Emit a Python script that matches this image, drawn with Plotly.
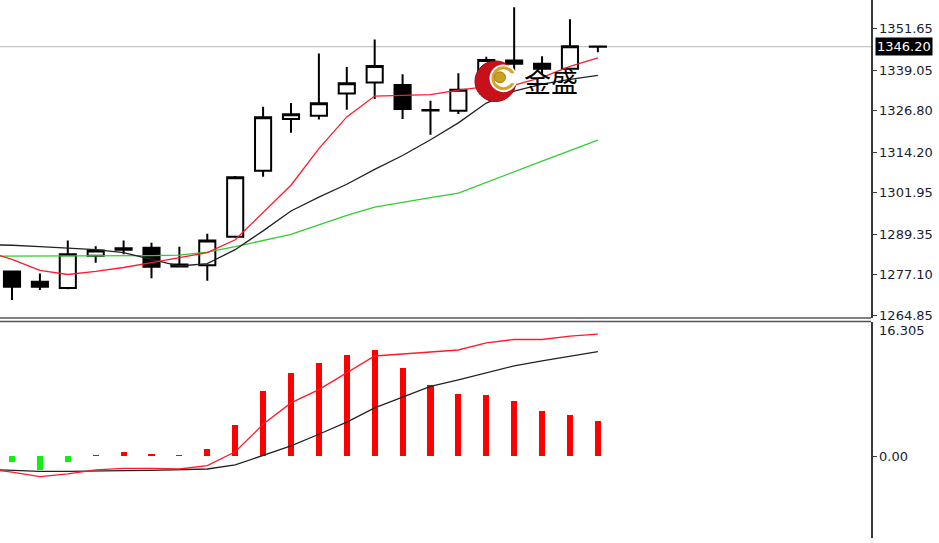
import plotly.graph_objects as go

# ---------------- data ----------------
bars = list(range(22))
opens = [1278.07, 1274.97, 1273.05, 1282.87, 1284.67, 1285.27, 1280.17, 1279.96, 1288.58, 1308.61, 1324.32,
         1325.31, 1332.04, 1335.34, 1334.62, 1326.87, 1326.81, 1333.33, 1342.04, 1341.05, 1339.55, 1346.25]
highs = [1278.37, 1277.46, 1287.47, 1285.72, 1287.47, 1286.78, 1285.57, 1289.48, 1306.99, 1328.01, 1329.12,
         1344.14, 1340.03, 1348.35, 1337.84, 1329.82, 1338.14, 1343.15, 1358.17, 1343.33, 1354.56, 1346.25]
lows = [1269.45, 1272.45, 1272.66, 1280.68, 1283.26, 1276.05, 1279.42, 1275.27, 1288.40, 1306.81, 1320.11,
        1324.11, 1327.11, 1330.33, 1324.32, 1319.51, 1325.82, 1332.73, 1337.84, 1337.84, 1339.55, 1344.53]
closes = [1273.47, 1273.47, 1283.26, 1284.46, 1285.12, 1279.48, 1279.57, 1287.47, 1306.60, 1324.83, 1325.73,
          1329.06, 1335.13, 1340.33, 1327.32, 1327.02, 1333.12, 1342.19, 1341.05, 1339.55, 1346.34, 1346.20]

ma_x = list(range(-1, 22))
ma_fast = [1284.37, 1281.76, 1278.37, 1277.16, 1278.07, 1279.27, 1280.77, 1282.27, 1283.77, 1287.68, 1295.79,
           1304.20, 1315.31, 1324.92, 1331.23, 1331.53, 1331.68, 1333.03, 1334.08, 1334.53, 1336.93, 1340.24, 1342.85]
ma_mid = [1286.17, 1286.02, 1285.57, 1285.12, 1284.67, 1283.77, 1281.67, 1279.72, 1280.47, 1284.67, 1290.38,
          1296.39, 1300.59, 1304.50, 1309.00, 1313.21, 1318.01, 1323.12, 1329.12, 1332.73, 1334.83, 1336.33, 1337.53]
ma_slow = [1282.72, 1282.72, 1282.72, 1282.72, 1282.72, 1282.78, 1282.87, 1283.02, 1283.92, 1285.57, 1287.38,
           1289.33, 1292.18, 1295.04, 1297.59, 1299.09, 1300.44, 1301.79, 1305.10, 1308.40, 1311.55, 1314.71, 1317.86]

hist = [-0.69, -1.69, -0.69, 0.15, 0.50, 0.25, 0.17, 0.93, 3.78, 7.93, 10.14,
        11.35, 12.40, 12.89, 10.79, 8.66, 7.57, 7.45, 6.73, 5.47, 5.03, 4.31]
osc_red = [-1.51, -1.93, -2.48, -2.15, -1.67, -1.47, -1.47, -1.55, -1.15, 0.54, 3.89,
           6.50, 8.12, 10.12, 12.22, 12.46, 12.66, 12.95, 13.83, 14.23, 14.23, 14.64, 14.88]
osc_black = [-1.57, -1.69, -1.84, -1.84, -1.75, -1.75, -1.71, -1.67, -1.55, -1.06, 0.06,
             1.27, 2.68, 4.17, 5.89, 7.22, 8.51, 9.32, 10.12, 11.01, 11.62, 12.22, 12.74]

price_ticks = [1351.65, 1339.05, 1326.80, 1314.20, 1301.95, 1289.35, 1277.10, 1264.85]
last_price = 1346.20
osc_ticks = [0.0]
osc_max = 16.305

# ---------------- layout helpers ----------------
W, H = 939, 543
PLOT_W = 871


def px(x):
    return x / PLOT_W


def py(y):
    return 1 - y / H


fig = go.Figure()

fig.add_trace(go.Candlestick(
    x=bars, open=opens, high=highs, low=lows, close=closes,
    increasing=dict(line=dict(color="#000000", width=2), fillcolor="#ffffff"),
    decreasing=dict(line=dict(color="#000000", width=2), fillcolor="#000000"),
    whiskerwidth=0, showlegend=False, xaxis="x", yaxis="y"))

fig.add_trace(go.Scatter(x=ma_x, y=ma_slow, mode="lines", line=dict(color="#33cc33", width=1.3),
                         showlegend=False, xaxis="x", yaxis="y"))
fig.add_trace(go.Scatter(x=ma_x, y=ma_mid, mode="lines", line=dict(color="#222222", width=1.3),
                         showlegend=False, xaxis="x", yaxis="y"))
fig.add_trace(go.Scatter(x=ma_x, y=ma_fast, mode="lines", line=dict(color="#ff1a2a", width=1.3),
                         showlegend=False, xaxis="x", yaxis="y"))

hist_colors = ["#11ee11" if v < 0 else "#ff0000" for v in hist]
fig.add_trace(go.Bar(x=bars, y=hist, width=0.22, marker=dict(color=hist_colors, line=dict(width=0)),
                     showlegend=False, xaxis="x2", yaxis="y2"))
fig.add_trace(go.Scatter(x=ma_x, y=osc_black, mode="lines", line=dict(color="#222222", width=1.3),
                         showlegend=False, xaxis="x2", yaxis="y2"))
fig.add_trace(go.Scatter(x=ma_x, y=osc_red, mode="lines", line=dict(color="#ff1a2a", width=1.3),
                         showlegend=False, xaxis="x2", yaxis="y2"))

xr = [-0.43, 30.79]
tickfont = dict(family="DejaVu Sans", size=13, color="#1c1c30")

fig.update_layout(
    width=W, height=H,
    margin=dict(l=0, r=W - PLOT_W, t=0, b=0),
    paper_bgcolor="#ffffff", plot_bgcolor="#ffffff",
    bargap=0, boxgap=0.24, boxgroupgap=0.24,
    xaxis=dict(domain=[0, 1], range=xr, visible=False, rangeslider=dict(visible=False), anchor="y"),
    xaxis2=dict(domain=[0, 1], range=xr, visible=False, anchor="y2", matches="x"),
    yaxis=dict(domain=[1 - 321 / H, 1], range=[1263.95, 1360.36], side="right", anchor="x",
               showgrid=False, zeroline=False, showline=True, linecolor="#3a3a3a", linewidth=1.5,
               ticks="outside", ticklen=4, tickcolor="#3a3a3a", tickwidth=1,
               tickvals=price_ticks, ticktext=[f"{v:.2f}" for v in price_ticks], tickfont=tickfont),
    yaxis2=dict(domain=[0, 218 / H], range=[-9.96, 16.36], side="right", anchor="x2",
                showgrid=False, zeroline=False, showline=True, linecolor="#3a3a3a", linewidth=1.5,
                ticks="outside", ticklen=4, tickcolor="#3a3a3a", tickwidth=1,
                tickvals=osc_ticks, ticktext=[f"{v:.2f}" for v in osc_ticks], tickfont=tickfont),
    hovermode=False,
)

shapes = []
# current price line
shapes.append(dict(type="line", xref="paper", yref="y", x0=0, x1=1, y0=last_price, y1=last_price,
                   line=dict(color="#c4c4c4", width=1.2), layer="below"))
# separator lines between panes
for yy in (321, 324.5):
    shapes.append(dict(type="line", xref="paper", yref="paper", x0=0, x1=1, y0=py(yy), y1=py(yy),
                       line=dict(color="#555555", width=1.5), layer="above"))

# logo: red crescent with gold ball
cx, cy, r = 495.5, 82, 20.5
shapes.append(dict(type="circle", xref="paper", yref="paper", x0=px(cx - r), x1=px(cx + r),
                   y0=py(cy + r), y1=py(cy - r), fillcolor="#c8101a", line=dict(color="#a00010", width=1),
                   layer="above"))
icx, icy, ir = 503.5, 79, 14
shapes.append(dict(type="circle", xref="paper", yref="paper", x0=px(icx - ir), x1=px(icx + ir),
                   y0=py(icy + ir), y1=py(icy - ir), fillcolor="#ffffff", line=dict(width=0),
                   layer="above"))
gr = 10.5
shapes.append(dict(type="circle", xref="paper", yref="paper", x0=px(icx - gr), x1=px(icx + gr),
                   y0=py(icy + gr), y1=py(icy - gr), fillcolor="rgba(0,0,0,0)",
                   line=dict(color="#d2a62a", width=3), layer="above"))
shapes.append(dict(type="rect", xref="paper", yref="paper", x0=px(509), x1=px(517),
                   y0=py(84), y1=py(74), fillcolor="#ffffff", line=dict(width=0), layer="above"))
br = 5.5
shapes.append(dict(type="circle", xref="paper", yref="paper", x0=px(500 - br), x1=px(500 + br),
                   y0=py(78 + br), y1=py(78 - br), fillcolor="#c9a020", line=dict(color="#a88010", width=1),
                   layer="above"))
fig.update_layout(shapes=shapes)

annotations = [
    dict(text="金盛", xref="paper", yref="paper", x=px(551), y=py(81), xanchor="center", yanchor="middle",
         showarrow=False, font=dict(family="Noto Sans CJK SC", size=27, color="#000000")),
    dict(text=f"{last_price:.2f}", xref="paper", yref="y", x=px(875), y=last_price, xanchor="left",
         yanchor="middle", showarrow=False, bgcolor="#000000", borderpad=1,
         font=dict(family="DejaVu Sans", size=13, color="#ffffff")),
    dict(text=f"{osc_max:.3f}", xref="paper", yref="paper", x=px(877), y=py(334), xanchor="left",
         yanchor="middle", showarrow=False, font=tickfont),
]
fig.update_layout(annotations=annotations)

fig.write_html(
    "out.html",
    config={"displayModeBar": False, "staticPlot": True},
    post_script=("document.documentElement.style.margin='0';document.documentElement.style.overflow='hidden';"
                 "document.documentElement.style.height='543px';"
                 "document.body.style.margin='0';document.body.style.overflow='hidden';"
                 "document.body.style.height='543px';"),
)
